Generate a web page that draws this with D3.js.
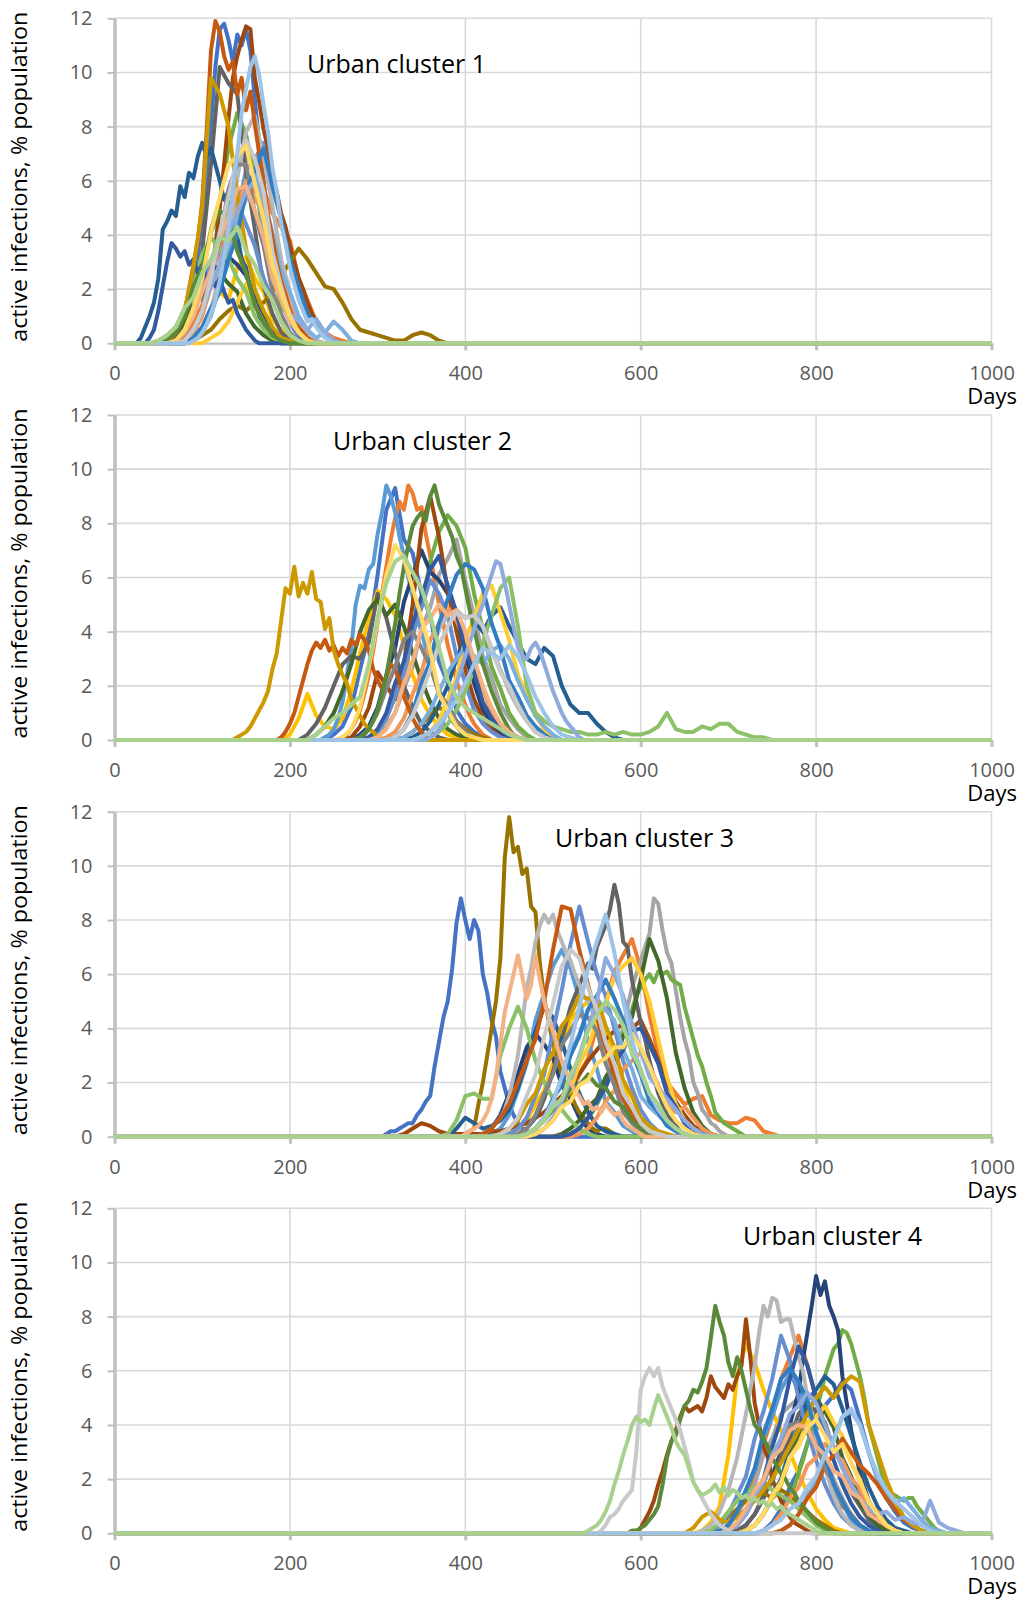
<!DOCTYPE html>
<html>
<head>
<meta charset="utf-8">
<script src="https://cdn.jsdelivr.net/npm/d3@7"></script>
<style>
  body { margin: 0; background: #fff; }
  text { font-family: "Open Sans", sans-serif; }
</style>
</head>
<body>
<div id="chart"></div>
<script>
// Excel default series colours, in series order (series 30 is drawn last)
var seriesColors = [
  "#4472C4","#ED7D31","#A5A5A5","#FFC000","#5B9BD5","#70AD47",
  "#264478","#9E480E","#636363","#997300","#255E91","#43682B",
  "#698ED0","#F1975A","#B7B7B7","#FFCD33","#7CAFDD","#8CC168",
  "#335AA1","#C65911","#848484","#CC9A00","#327DC2","#5A8A39",
  "#8FAADC","#F4B183","#C9C9C9","#FFD966","#9DC3E6","#A9D18E"
];
var titles = ["Urban cluster 1", "Urban cluster 2", "Urban cluster 3", "Urban cluster 4"];
var xTicks = [0, 200, 400, 600, 800, 1000];
var yTicks = [0, 2, 4, 6, 8, 10, 12];

// ---- cluster 1: first day of each run, days between readings, % infected
var c1Start = [60,70,80,90,90,60,60,80,60,90,30,60,70,80,90,110,90,50,40,60,80,60,90,60,80,70,80,70,90,50];
var c1Step  = [5,10,10,10,10,10,10,5,10,10,5,10,10,10,10,10,10,10,5,5,10,10,10,10,10,10,10,10,5,10];
var c1Values = [
  [0.1,0.2,0.4,0.6,1.0,1.6,2.3,3.3,4.6,6.2,8.1,10.2,11.6,11.8,11.2,10.4,11.4,11.0,11.6,10.8,9.0,7.4,6.0,4.6,3.4,2.6,1.8,1.2,0.8,0.5,0.3,0.1],
  [0.1,0.3,0.8,1.4,2.7,3.3,4.6,5.3,6.1,5.6,5.7,4.8,4.3,3.8,2.4,1.6,0.8,0.4,0.2,0.1],
  [0.1,0.4,1.2,2.2,3.7,4.8,6.7,6.9,6.3,4.8,3.7,1.9,1.1,0.5,0.2],
  [0.1,0.5,1.2,1.9,1.6,2.8,3.2,2.4,1.9,0.9,0.5,0.2],
  [0.2,0.6,1.3,2.0,3.7,4.8,6.4,6.8,7.4,5.8,4.6,2.9,2.1,1.1,0.7,0.3,0.1],
  [0.1,0.3,0.6,1.3,2.4,4.2,5.3,7.2,8.5,7.7,6.2,3.8,2.6,1.4,0.9,0.4,0.2],
  [0.1,0.4,1,1.8,2.6,3,2.6,3.2,2.9,2.5,1.7,1,0.4,0.1],
  [0.1,0.3,0.5,0.8,1.2,1.8,2.6,3.6,5.0,6.6,8.3,9.8,10.6,11.2,11.7,11.6,9.8,8.9,7.9,7.2,6.2,5.6,4.8,4.3,3.6,3.0,2.4,2.0,1.5,1.1,0.8,0.5,0.3,0.2,0.1],
  [0.1,0.3,0.8,1.9,3.4,6.6,10.2,9.6,9.2,6.3,4.2,2.1,1.1,0.4,0.1],
  [0.1,0.3,0.5,0.9,1.2,1.4,1.2,1.5,1.5,1.9,2.5,3.0,3.5,3.1,2.6,2.1,2.0,1.5,0.9,0.5,0.4,0.3,0.2,0.1,0.1,0.3,0.4,0.3,0.1],
  [0.2,0.6,1.0,1.5,2.4,4.2,4.5,4.9,4.7,5.8,5.4,6.3,6.1,6.9,7.4,6.9,7.2,6.6,6.0,5.3,5.6,4.6,4.0,3.1,2.8,2.0,1.6,1.0,0.7,0.4,0.2,0.1],
  [0.1,0.3,0.8,1.4,1.7,2.3,2.6,2.2,1.9,1.1,0.6,0.3,0.1],
  [0.1,0.4,1,2.1,2.9,4.1,4.7,5.2,4.4,3.6,2.4,1.6,0.8,0.3,0.1],
  [0.1,0.4,1,2.1,2.9,4.2,5.0,6,5.3,4.9,3.4,2.6,1.4,0.9,0.4,0.1],
  [0.2,0.5,1.2,2.6,3.8,6.1,7.8,8.4,6.8,5.1,3.1,1.9,0.9,0.4,0.1],
  [0.2,0.4,0.8,1.5,2.2,1.4,0.8,0.3,0.1],
  [0.1,0.4,1,2.1,3.0,4.6,5.3,6.2,5.4,4.1,2.7,1.9,1,0.5,0.2,0.4,0.8,0.5,0.1],
  [0.1,0.3,0.6,1.3,2.1,3.3,3.9,3.5,3.1,2.4,1.9,1,0.5,0.2,0.1],
  [0.2,0.5,1.2,2.1,3.0,3.7,3.5,3.2,3.4,2.9,3.1,2.6,2.9,2.4,2.6,2.1,2.4,1.9,1.5,1.6,1.1,0.8,0.5,0.3,0.1],
  [0.1,0.2,0.4,0.7,1.2,2.0,2.9,3.8,5.2,7.8,10.8,11.9,11.5,10.6,10.1,10.4,9.2,9.8,8.6,9.3,8.1,7.0,5.9,4.7,3.9,3.0,2.3,1.8,1.2,0.9,0.6,0.4,0.2,0.1],
  [0.1,0.5,1.2,2.6,3.8,5.7,6.6,6.6,4.8,3.6,1.9,1.1,0.4,0.1],
  [0.1,0.4,1.2,2.8,5,9.8,9.2,8,5.5,3.5,2,1.2,0.6,0.2,0.1],
  [0.2,0.6,1.3,1.9,3.1,4.0,5.6,6.4,7.2,5.8,4.6,3.1,2.1,1.1,0.7,0.3,0.1],
  [0.1,0.4,1,2.1,2.8,4.1,4.9,4.6,3.4,2.6,1.4,0.8,0.3,0.1],
  [0.1,0.5,1.2,2.1,2.9,4.1,4.8,5.6,6,4.4,3.1,1.9,1.1,0.8,0.5,0.9,0.4,0.1],
  [0.1,0.4,1,1.9,2.7,3.9,4.7,5.7,5.8,4.9,3.9,2.4,1.6,0.8,0.4,0.1],
  [0.1,0.5,1.2,2.4,4.1,5.4,6.9,7.5,6.8,5.6,3.4,2.1,1,0.4,0.1],
  [0.1,0.5,1.3,2.4,4.1,5.4,6.6,6.9,7.3,5.9,4.6,2.9,1.9,1,0.4,0.1],
  [0.1,0.2,0.4,0.7,1.1,1.6,2.3,3.2,4.3,5.6,7.0,8.5,9.4,10.2,10.6,9.9,8.8,7.8,6.5,5.6,4.4,3.7,2.8,2.2,1.6,1.2,0.8,0.9,0.6,0.4,0.2,0.1],
  [0.1,0.3,0.6,1.3,1.7,2.6,3.1,3.9,3.8,4.3,3.4,2.9,2.1,1.6,0.8,0.3,0.1]
];

// ---- cluster 2
var c2Start = [250,260,300,200,240,290,280,270,220,330,340,230,290,310,320,350,330,360,290,190,280,140,320,280,360,300,320,260,350,230];
var c2Step  = [10,5,10,10,5,10,10,10,10,10,10,10,10,10,10,10,10,10,10,5,10,5,10,5,5,10,10,10,10,10];
var c2Values = [
  [0.2,0.5,1.2,2.6,3.9,6.1,8.5,9.3,7.4,6.9,5.4,4.6,2.9,2.1,1.1,0.6,0.3,0.1],
  [0.1,0.2,0.4,0.7,1.1,1.7,2.4,3.3,4.3,5.4,6.4,7.4,8.2,8.8,8.5,9.4,9.1,8.5,8.6,7.6,6.8,5.9,5.0,4.3,3.5,2.9,2.2,1.7,1.3,0.9,0.6,0.4,0.2,0.1],
  [0.2,0.5,1,1.9,2.7,4.1,4.9,6.1,6.7,7.4,5.9,4.6,3.1,2.3,1.3,0.8,0.4,0.1],
  [0.2,0.8,1.7,0.9,0.5,0.4,0.8,1.8,3.2,4.5,5.5,5.2,4.6,3.5,2.4,1.5,0.9,0.5,0.2,0.1],
  [0.1,0.2,0.4,0.8,1.4,2.4,3.4,5.0,5.7,5.6,6.3,6.5,7.6,8.4,9.4,9.0,8.4,7.5,6.8,6.0,5.3,4.5,4.0,3.4,2.9,2.3,1.9,1.4,1.0,0.7,0.5,0.3,0.1],
  [0.1,0.3,0.8,1.6,2.4,3.9,4.9,6.6,7.7,8.3,7.9,7.1,5.4,4.1,2.7,1.9,1,0.5,0.2],
  [0.2,0.5,1.2,2.4,3.4,5.1,6.1,7,6.2,5.9,5.4,4.6,3.1,2.1,1.1,0.6,0.2],
  [0.1,0.5,1.2,2.5,2,1.5,2.8,5,7.8,9,7.5,5.5,4,2.6,1.5,0.8,0.4,0.1],
  [0.2,0.6,1.2,2.0,2.8,3.1,3.0,3.6,5.4,4.5,3.2,2.0,1.2,0.6,0.3,0.1],
  [0.1,0.3,0.6,0.9,1.2,1.0,0.7,0.4,0.2,0.1],
  [0.1,0.3,0.7,1.3,2,3,3.8,4.4,4.0,4.6,4.9,4.2,3.6,3.0,2.8,3.4,3.1,2.0,1.3,1.0,1.0,0.6,0.3,0.1],
  [0.2,0.5,1,1.8,2.8,4,4.8,5.2,4.6,5.0,4.2,3.2,2.2,1.4,0.8,0.4,0.2,0.1],
  [0.1,0.3,0.8,1.6,2.4,3.9,4.9,5.9,5.4,4.6,3.1,2.1,1.1,0.6,0.3,0.1],
  [0.1,0.3,0.8,1.7,2.5,3.7,4.3,4.9,4.4,3.7,2.5,1.9,1.0,0.6,0.3,0.1],
  [0.1,0.4,1,2.1,2.9,4.1,4.6,4.8,4.5,4.7,4.2,3.4,2.6,1.8,1.2,0.7,0.3,0.1],
  [0.1,0.3,0.7,1.5,2.3,3.7,4.5,5.4,5.7,4.7,3.7,2.4,1.7,0.9,0.4,0.1],
  [0.1,0.3,0.6,1.1,1.8,2.5,3.0,3.4,3.1,2.8,3.3,3.5,3.0,2.2,1.5,0.9,0.5,0.2],
  [0.1,0.3,0.6,1.1,1.8,2.6,3.6,4.6,5.6,6.0,4.2,2.0,1.0,0.7,0.5,0.4,0.3,0.3,0.2,0.2,0.3,0.2,0.3,0.2,0.2,0.3,0.5,1.0,0.4,0.3,0.3,0.5,0.4,0.6,0.6,0.3,0.2,0.1,0.1],
  [0.1,0.4,1,2.1,2.9,4.3,5.3,6.3,6.8,5.7,4.7,3.3,2.5,1.4,0.8,0.4,0.1],
  [0.1,0.3,0.6,1.0,1.6,2.2,2.8,3.3,3.6,3.4,3.7,3.3,3.5,3.1,3.4,3.2,3.7,3.5,3.9,3.7,3.3,2.6,2.2,1.9,2.3,2.8,2.6,2.2,1.6,1.2,0.8,0.5,0.3,0.1],
  [0.1,0.4,1,1.9,2.7,3.7,4,3.4,2.7,1.7,1.3,0.7,0.3,0.1],
  [0.1,0.2,0.3,0.5,0.8,1.1,1.4,1.8,2.6,3.2,4.4,5.6,5.4,6.4,5.3,5.8,5.4,6.2,5.2,5.1,4.1,4.5,3.3,2.8,2.4,2.1,1.5,1.2,0.9,0.6,0.4,0.3,0.1],
  [0.1,0.4,1,2.1,2.9,4.3,5.2,6.1,6.5,6.3,5.6,4.3,3.4,2.2,1.6,0.9,0.5,0.2],
  [0.1,0.2,0.4,0.7,1.1,1.7,2.4,3.3,4.3,5.4,6.4,7.2,7.9,8.2,8.4,8.1,9.0,9.4,8.7,8.3,7.9,7.5,6.8,6.4,5.6,4.8,4.1,3.4,2.8,2.3,1.8,1.4,1.0,0.7,0.4,0.2,0.1],
  [0.1,0.2,0.4,0.7,1.1,1.6,2.1,2.6,3.1,3.6,4.1,4.6,5.0,5.6,6.1,6.6,6.5,5.8,5.0,4.2,3.4,3.1,3.0,3.4,3.6,3.3,2.8,2.3,1.8,1.4,1.0,0.7,0.5,0.3,0.1],
  [0.1,0.4,1,2.1,2.9,4.1,4.5,5.0,4.6,4.8,4.0,3.0,2.0,1.2,0.6,0.3,0.1],
  [0.1,0.4,0.9,1.7,2.6,3.5,4.2,4.7,4.5,4.6,4.2,3.3,2.5,2.0,1.3,0.7,0.3,0.1],
  [0.1,0.4,1.2,2.7,4.4,6.1,7.2,6.7,5.6,4.5,3.3,1.7,1.1,0.5,0.2,0.1],
  [0.1,0.3,0.6,1.0,1.5,2.1,2.8,3.4,3.2,3.0,3.5,3.1,2.4,1.6,1.0,0.5,0.2,0.1],
  [0.2,0.5,0.8,1.0,1.3,1.6,2.8,4.5,5.8,6.6,6.8,6.2,5.6,4.6,3.4,2.2,1.6,1.2,1.0,0.8,0.6,0.4,0.2,0.1]
];

// ---- cluster 3
var c3Start = [310,480,520,450,430,520,420,330,460,400,390,510,450,530,420,480,470,380,520,420,460,440,470,470,480,400,440,480,470,470];
var c3Step  = [5,10,5,10,10,5,10,10,5,5,10,10,10,10,5,10,10,10,10,10,10,10,10,10,10,5,10,10,10,10];
var c3Values = [
  [0.1,0.2,0.2,0.3,0.4,0.5,0.5,0.8,1.0,1.3,1.5,2.6,3.5,4.4,5.0,6.2,7.9,8.8,8.0,7.3,8.0,7.6,6.0,5.3,4.3,3.7,2.4,1.8,1.2,0.8,0.5,0.3,0.2,0.1],
  [0.1,0.3,0.6,1.1,1.4,2.3,2.9,4.1,4.9,6.1,6.7,7.3,6.2,4.5,3.0,2.0,1.6,1.2,1.4,1.5,0.8,0.6,0.5,0.5,0.7,0.6,0.2,0.1],
  [0.1,0.2,0.3,0.5,0.7,1.0,1.2,1.6,2.0,2.5,3.0,3.5,4.0,4.8,5.5,6.0,6.5,7.0,7.5,8.8,8.6,7.6,6.8,6.4,5.4,4.4,3.6,3.0,2.0,1.6,1.0,0.8,0.5,0.4,0.2,0.1],
  [0.1,0.3,0.6,1.2,1.7,2.7,3.3,4.3,4.7,5.0,4.5,3.9,2.7,1.9,1.0,0.6,0.3,0.1],
  [0.1,0.3,0.8,1.7,2.7,4.3,5.3,6.3,6.9,6.2,5.1,3.5,2.5,1.3,0.9,0.4,0.2],
  [0.1,0.2,0.3,0.5,0.7,0.9,1.2,1.5,2.0,2.4,2.9,3.3,3.8,4.3,4.7,5.2,5.5,5.8,6.0,5.7,6.1,6.0,6.1,5.8,5.7,5.6,4.8,4.2,3.6,3.0,2.6,2.0,1.5,0.9,0.7,0.5,0.4,0.3,0.2,0.1],
  [0.1,0.3,0.8,1.6,2.3,3.3,3.8,3.4,2.9,1.9,1.4,0.7,0.3,0.1],
  [0.1,0.3,0.5,0.4,0.2,0.1,0.1,0.1,0.1,0.1,0.2,0.2,0.3,0.4,0.5,0.7,0.9,1.2,1.5,1.9,2.3,2.8,3.2,3.6,3.9,4.2,4.0,4.3,3.6,2.8,2.0,1.3,0.8,0.4,0.2,0.1],
  [0.1,0.2,0.3,0.5,0.7,1.0,1.4,1.9,2.4,3.0,3.6,4.2,4.8,5.2,5.6,6.0,6.4,6.2,7.0,7.4,7.8,8.4,9.3,8.6,7.2,7.0,5.8,5.0,4.2,3.6,2.8,2.2,1.6,1.2,0.8,0.6,0.4,0.2,0.1],
  [0.1,0.2,0.3,1.2,2.0,3.0,4.0,5.0,6.6,10.3,11.8,10.5,10.7,9.7,9.9,8.5,8.3,6.4,5.1,4.3,3.4,2.9,2.3,1.9,1.6,1.2,0.9,0.7,0.5,0.3,0.2,0.3,0.3,0.2,0.1],
  [0.3,0.7,0.5,0.3,0.4,0.6,1.0,1.8,2.8,3.9,4.8,4.4,3.5,2.5,1.6,0.9,0.4,0.2,0.1],
  [0.1,0.3,0.6,1.1,1.4,2.2,2.7,3.7,4.4,5.8,7.3,6.5,5.1,3.1,1.8,0.9,0.4,0.1],
  [0.1,0.3,0.7,1.5,2.3,3.9,5.4,7.1,8.5,7.2,6.0,5.2,4.0,2.8,1.8,1.0,0.5,0.2,0.1],
  [0.1,0.3,0.7,1.3,1.7,2.5,2.8,3.1,2.6,1.9,1.2,0.9,1.1,0.7,0.3,0.1],
  [0.1,0.2,0.3,0.5,0.7,1.0,1.5,2.2,3.0,4.2,5.5,6.2,7.2,7.8,8.2,7.9,8.2,7.6,7.2,6.8,6.5,6.0,5.6,5.2,5.0,4.6,4.2,3.6,3.0,2.5,2.0,1.6,1.2,0.9,0.6,0.4,0.3,0.1],
  [0.1,0.3,0.7,1.3,1.7,2.7,3.3,4.3,4.9,5.9,6.3,6.6,6.0,5.0,3.6,2.2,1.2,0.6,0.3,0.1],
  [0.1,0.3,0.7,1.4,2.0,3.1,3.8,4.7,5.1,4.7,4.3,3.2,2.5,1.5,1.1,0.8,0.5,0.2,0.1],
  [0.1,0.6,1.5,1.6,1.4,1.4,3.0,4.0,4.8,4.0,2.8,2.0,1.4,1.0,0.6,0.3,0.1],
  [0.1,0.3,0.7,1.3,1.8,2.7,3.2,3.9,4.0,3.4,2.7,1.6,1.1,0.5,0.2,0.1],
  [0.1,0.3,0.7,1.2,2.0,2.8,3.6,5.0,6.9,8.5,8.4,6.9,5.6,4.4,3.3,2.3,1.4,0.8,0.4,0.1],
  [0.1,0.3,0.8,1.6,2.3,3.4,3.9,4.5,4.4,3.9,2.7,1.9,0.9,0.5,0.2,0.1],
  [0.1,0.3,0.6,1.2,1.6,2.5,3.1,4.1,4.5,5.2,5.1,5.1,4.1,3.3,2.1,1.5,0.7,0.4,0.2,0.1],
  [0.1,0.3,0.7,1.4,1.9,3.0,3.7,4.7,5.2,5.8,5.1,4.3,3.1,2.3,1.3,0.9,0.4,0.2,0.1],
  [0.1,0.3,0.6,1.0,1.2,1.8,1.9,2.3,1.9,1.8,1.3,1.1,0.6,0.3,0.1],
  [0.1,0.3,0.7,1.3,2.1,3.0,4.0,5.0,6.6,6.0,5.2,4.2,3.2,2.2,1.8,1.4,1.0,0.6,0.3,0.1],
  [0.1,0.2,0.3,0.4,0.6,0.9,1.4,2.2,3.4,4.6,5.3,6.0,6.7,5.9,5.1,5.6,6.7,5.8,5.0,4.4,3.9,3.3,2.8,2.4,2.0,1.7,1.5,1.2,1.3,1.0,1.1,0.9,1.2,1.0,0.8,0.9,0.6,0.4,0.3,0.2,0.1],
  [0.1,0.3,0.7,1.5,2.3,3.7,4.9,6.3,6.9,6.6,5.5,4.7,3.5,2.7,1.6,1.1,0.5,0.2,0.1],
  [0.1,0.3,0.6,1.1,1.3,1.9,2.1,2.7,2.9,3.3,3.3,3.8,3.3,2.6,1.8,1.1,0.6,0.3,0.1],
  [0.1,0.3,0.7,1.3,2.2,3.4,4.8,6.2,7.2,8.2,6.8,5.0,3.6,2.4,1.6,1.0,0.6,0.3,0.1],
  [0.1,0.3,0.6,1.1,1.4,2.3,2.9,3.9,4.5,5.0,4.7,4.1,3.1,2.5,1.6,1.2,0.6,0.3,0.1]
];

// ---- cluster 4
var c4Start = [740,690,690,670,690,740,710,600,710,680,720,720,680,740,670,720,760,680,700,760,700,660,690,590,700,700,555,720,740,540];
var c4Step  = [10,10,10,10,10,5,5,5,10,10,10,10,10,10,5,10,10,10,10,10,10,10,10,5,10,10,5,10,10,5];
var c4Values = [
  [0.1,0.4,0.9,1.7,2.3,3.3,3.8,4.7,5.1,5.6,5.3,4.2,3.0,2.0,1.3,0.8,0.4,0.2,0.1],
  [0.1,0.3,0.7,1.4,2.1,3.3,4.3,5.7,6.5,7.3,6.2,5.0,4.0,3.2,2.6,2.0,1.4,0.9,0.5,0.2,0.1],
  [0.1,0.3,0.7,1.3,1.8,2.9,3.5,4.4,4.7,5.0,4.6,3.8,2.9,2.0,1.3,0.7,0.3,0.1],
  [0.1,0.4,1.0,2.9,5.8,7.0,6.3,5.3,4.5,3.8,3.0,2.2,1.5,0.9,0.5,0.2,0.1],
  [0.1,0.3,0.8,1.6,2.3,3.5,4.3,5.3,5.9,5.3,4.7,3.5,2.7,1.6,1.1,0.5,0.2,0.1],
  [0.1,0.2,0.3,0.5,0.7,1.0,1.3,1.7,2.2,2.7,3.3,3.9,4.5,5.1,5.8,6.3,6.8,7.0,7.5,7.4,7.0,6.4,5.8,5.0,4.0,3.4,2.8,2.2,1.6,1.5,1.4,1.3,1.2,1.3,1.3,1.0,0.8,0.6,0.4,0.2,0.1],
  [0.1,0.2,0.3,0.5,0.7,1.0,1.3,1.7,2.1,2.6,3.0,3.5,4.0,4.6,5.2,6.4,7.4,8.4,9.5,8.8,9.3,8.4,8.0,7.5,5.8,4.8,3.8,3.0,2.2,1.7,1.2,0.9,0.6,0.4,0.3,0.2,0.1],
  [0.2,0.5,0.8,1.2,1.8,2.3,2.9,3.4,3.8,4.3,4.7,4.5,4.6,4.7,4.5,5.0,5.8,5.4,5.2,5.0,5.5,5.3,5.8,6.2,7.9,6.5,4.8,4.0,3.2,2.8,2.0,1.6,1.2,0.9,0.6,0.4,0.3,0.2,0.1],
  [0.1,0.3,0.7,1.4,1.9,2.9,3.5,4.4,4.8,4.5,4.1,3.1,2.5,1.5,1.0,0.5,0.2,0.1],
  [0.1,0.3,0.6,0.9,1.2,1.4,1.5,1.3,1.6,1.4,1.1,0.8,0.5,0.3,0.1],
  [0.1,0.3,0.7,1.4,2.0,3.1,3.9,4.9,5.3,5.8,5.5,4.6,3.6,2.6,1.7,1.0,0.5,0.2,0.1],
  [0.1,0.3,0.7,1.3,1.8,2.8,3.5,4.5,5.0,4.5,3.9,2.8,2.1,1.1,0.7,0.3,0.1],
  [0.1,0.3,0.7,1.4,2.1,3.5,4.5,5.7,7.3,6.4,5.0,3.8,2.7,1.8,1.1,0.6,0.3,0.1],
  [0.1,0.3,0.7,1.3,1.7,2.5,2.8,3.3,2.9,2.7,2.0,1.7,1.0,0.8,0.3,0.1],
  [0.1,0.2,0.3,0.5,0.8,1.2,1.6,2.2,2.8,3.6,4.4,5.3,6.2,7.4,8.4,8.0,8.7,8.6,7.8,7.9,7.9,7.2,6.5,6.0,5.0,4.4,3.6,3.0,2.4,1.9,1.4,1.0,0.7,0.5,0.3,0.2,0.1],
  [0.1,0.3,0.7,1.3,1.8,2.8,3.3,4.1,4.3,4.7,4.1,3.6,2.6,2.0,1.1,0.7,0.3,0.1],
  [0.1,0.3,0.7,1.4,1.9,2.9,3.5,4.3,4.5,4.0,3.0,2.0,1.4,1.1,1.3,0.9,0.5,0.2,0.1],
  [0.1,0.4,0.8,1.2,1.5,1.7,1.9,1.6,1.4,1.2,0.9,0.6,0.3,0.1],
  [0.1,0.3,0.7,1.4,2.0,3.2,4.2,5.7,6.9,6.2,5.0,3.8,2.7,1.8,1.1,0.6,0.3,0.1],
  [0.1,0.3,0.7,1.3,1.7,2.5,2.9,3.5,3.0,2.5,2.2,1.8,1.3,0.9,0.5,0.3,0.1],
  [0.1,0.3,0.7,1.3,1.8,2.8,3.3,4.0,4.1,3.7,3.3,2.4,1.9,1.0,0.7,0.3,0.1],
  [0.2,0.6,0.8,0.5,0.4,0.6,0.9,1.2,1.6,2.0,2.6,3.2,3.8,4.4,5.0,5.4,5.0,5.5,5.8,5.6,4.0,3.0,2.0,1.2,0.6,0.3,0.1],
  [0.1,0.3,0.8,1.6,2.4,3.7,4.6,5.7,6.1,5.6,4.9,3.7,2.9,1.8,1.2,0.6,0.3,0.1],
  [0.1,0.1,0.2,0.3,0.5,0.7,1.0,1.8,2.8,3.4,3.6,4.2,4.7,4.9,5.3,5.2,5.6,6.1,7.2,8.4,7.8,7.3,6.3,5.8,6.5,6.0,5.3,4.6,4.0,3.8,3.5,3.2,2.8,2.5,2.2,2.0,1.7,1.5,1.2,1.0,0.8,0.6,0.4,0.3,0.2,0.1],
  [0.1,0.3,0.7,1.4,1.9,2.9,3.5,4.4,4.7,5.2,4.8,4.0,3.2,2.4,1.8,1.3,0.9,0.7,0.8,0.5,0.6,0.4,0.3,1.2,0.4,0.2,0.1],
  [0.1,0.4,0.9,1.6,2.0,2.8,3.1,3.8,4.0,3.9,3.2,2.9,2.3,2.1,1.5,1.3,0.7,0.5,0.3,0.1],
  [0.1,0.3,0.6,0.7,0.9,1.2,1.4,1.6,3.0,5.3,5.8,6.1,5.8,6.1,5.4,5.0,4.6,4.2,3.8,3.2,2.6,1.9,1.6,1.3,1.0,0.7,0.5,0.3,0.2,0.1],
  [0.1,0.3,0.7,1.4,1.9,2.8,3.2,3.9,4.2,3.6,3.0,3.3,2.6,1.9,1.2,0.7,0.3,0.1],
  [0.1,0.3,0.5,0.9,1.1,1.7,2.1,2.9,3.4,4.3,4.6,4.0,3.0,2.2,1.6,1.2,0.9,0.6,0.3,0.1],
  [0.1,0.2,0.3,0.5,0.8,1.2,1.8,2.3,2.9,3.4,4.0,4.3,4.1,4.2,4.0,4.6,5.1,4.7,4.3,3.9,3.4,3.1,2.9,2.4,1.9,1.6,1.4,1.5,1.6,1.8,1.5,1.7,1.4,1.6,1.5,1.3,1.4,1.2,1.3,1.1,1.2,1.0,1.1,0.9,1.0,0.8,0.7,0.6,0.5,0.4,0.3,0.2,0.1]
];

var allStarts = [c1Start, c2Start, c3Start, c4Start];
var allSteps  = [c1Step, c2Step, c3Step, c4Step];
var allValues = [c1Values, c2Values, c3Values, c4Values];

// layout
var width = 1031, height = 1600;
var plotLeft = 114.5, plotW = 877, plotH = 325;
var panelTops = [18.3, 415, 811.7, 1208.3];
var titlePos = [[307, 73], [333, 450], [555, 847], [743, 1245]];

var svg = d3.select("#chart").append("svg")
    .attr("width", width)
    .attr("height", height);

var x = d3.scaleLinear().domain([0, 1000]).range([0, plotW]);
var y = d3.scaleLinear().domain([0, 12]).range([plotH, 0]);

var line = d3.line()
    .x(function(d) { return x(d[0]); })
    .y(function(d) { return y(d[1]); });

// turn a run (start day, spacing, readings) into points, flat at zero elsewhere
function runPoints(start, step, vals) {
  var pts = [[0, 0], [start - step, 0]];
  vals.forEach(function(v, i) { pts.push([start + i * step, v]); });
  pts.push([start + vals.length * step, 0]);
  pts.push([1000, 0]);
  return pts;
}

titles.forEach(function(title, p) {
  var g = svg.append("g")
      .attr("transform", "translate(" + plotLeft + "," + panelTops[p] + ")");

  // gridlines
  g.selectAll("hgrid")
    .data(yTicks)
    .enter().append("line")
      .attr("x1", 0).attr("x2", plotW)
      .attr("y1", function(d) { return y(d); })
      .attr("y2", function(d) { return y(d); })
      .style("stroke", "#d9d9d9").style("stroke-width", 1.6);
  g.selectAll("vgrid")
    .data(xTicks.slice(1))
    .enter().append("line")
      .attr("x1", function(d) { return x(d); })
      .attr("x2", function(d) { return x(d); })
      .attr("y1", 0).attr("y2", plotH)
      .style("stroke", "#d9d9d9").style("stroke-width", 1.6);

  // x axis
  var xa = g.append("g")
      .attr("transform", "translate(0," + plotH + ")")
      .call(d3.axisBottom(x).tickValues(xTicks).tickFormat(d3.format("d"))
        .tickSize(7).tickSizeOuter(0).tickPadding(16));
  xa.select(".domain").style("stroke", "#bfbfbf").style("stroke-width", 2);
  xa.selectAll(".tick line").style("stroke", "#bfbfbf").style("stroke-width", 3);
  xa.selectAll("text").style("font-size", "20px").style("fill", "#595959")
      .style("font-family", "'Open Sans', sans-serif");

  // y axis
  var ya = g.append("g")
      .call(d3.axisLeft(y).tickValues(yTicks).tickSize(7).tickSizeOuter(0).tickPadding(15));
  ya.select(".domain").style("stroke", "#bfbfbf").style("stroke-width", 3.5);
  ya.selectAll(".tick line").style("stroke", "#bfbfbf").style("stroke-width", 2);
  ya.selectAll("text").style("font-size", "20px").style("fill", "#595959")
      .style("font-family", "'Open Sans', sans-serif");

  // the runs
  var starts = allStarts[p], steps = allSteps[p];
  g.selectAll("runs")
    .data(allValues[p])
    .enter().append("path")
      .attr("d", function(d, i) { return line(runPoints(starts[i], steps[i], d)); })
      .style("fill", "none")
      .style("stroke", function(d, i) { return seriesColors[i]; })
      .style("stroke-width", 4)
      .style("stroke-linejoin", "round");

  // titles
  svg.append("text")
      .attr("x", titlePos[p][0]).attr("y", titlePos[p][1])
      .text(title)
      .style("font-size", "25px").style("fill", "#000");

  svg.append("text")
      .attr("transform", "translate(27," + (panelTops[p] + plotH / 2 - 4) + ") rotate(-90)")
      .attr("text-anchor", "middle")
      .attr("textLength", 330)
      .attr("lengthAdjust", "spacingAndGlyphs")
      .text("active infections, % population")
      .style("font-size", "22px").style("fill", "#000");

  svg.append("text")
      .attr("x", 1017).attr("y", panelTops[p] + plotH + 61)
      .attr("text-anchor", "end")
      .text("Days")
      .style("font-size", "22px").style("fill", "#000");
});
</script>
</body>
</html>
